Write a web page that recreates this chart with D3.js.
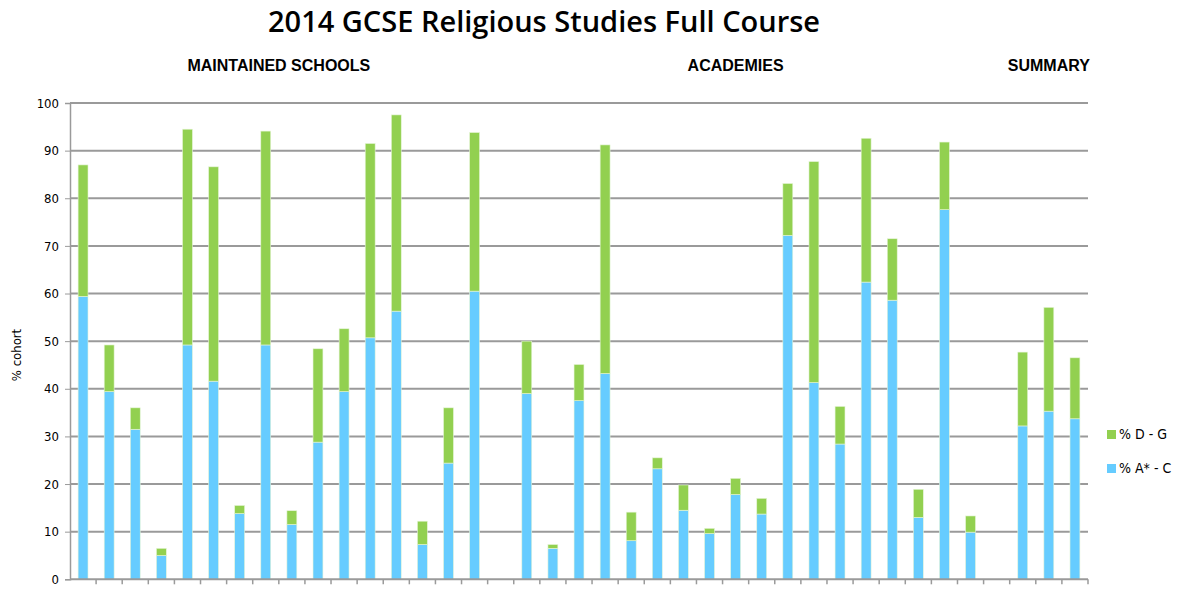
<!DOCTYPE html>
<html>
<head>
<meta charset="utf-8">
<script src="https://cdn.jsdelivr.net/npm/d3@7"></script>
<style>
  body { margin: 0; background: #fff; }
  svg { display: block; }
</style>
</head>
<body>
<svg id="chart"></svg>
<script>
// 39 slots: 16 maintained schools, gap, 18 academies, gap, 3 summary
const categories = d3.range(1, 40).map(String);

const gradeAC = [59.4, 39.4, 31.5, 5.0, 49.2, 41.6, 13.8, 49.2, 11.5, 28.8, 39.4, 50.7, 56.3, 7.3, 24.4, 60.5,
  0,
  39.0, 6.5, 37.5, 43.2, 8.1, 23.2, 14.5, 9.6, 17.8, 13.7, 72.2, 41.3, 28.4, 62.4, 58.6, 13.0, 77.6, 9.9,
  0,
  32.2, 35.3, 33.7];

const totals = [87.0, 49.2, 36.0, 6.5, 94.5, 86.6, 15.5, 94.1, 14.4, 48.4, 52.6, 91.5, 97.5, 12.2, 36.0, 93.8,
  0,
  50.0, 7.3, 45.1, 91.2, 14.1, 25.5, 19.8, 10.7, 21.2, 17.0, 83.1, 87.7, 36.3, 92.6, 71.5, 18.9, 91.8, 13.3,
  0,
  47.7, 57.1, 46.5];

const gradeDG = totals.map((t, i) => +(t - gradeAC[i]).toFixed(1));

const series = ["% A* - C", "% D - G"];
const colors = ["#66ccff", "#92d050"];
const yTicks = d3.range(0, 101, 10);

const sections = [
  { label: "MAINTAINED SCHOOLS", first: "1", last: "16" },
  { label: "ACADEMIES", first: "18", last: "34" },
  { label: "SUMMARY", first: "37", last: "39" }
];

const width = 1186, height = 590;
const margin = { top: 103, right: 98, bottom: 10, left: 70 };
const plotW = width - margin.left - margin.right;
const plotH = height - margin.top - margin.bottom - 0.7;

const svg = d3.select("#chart")
  .attr("width", width)
  .attr("height", height);

const table = categories.map((c, i) => ({ cat: c, "% A* - C": gradeAC[i], "% D - G": gradeDG[i] }));
const stacked = d3.stack().keys(series)(table);

const x = d3.scaleBand()
  .domain(categories)
  .range([0, plotW])
  .paddingInner(0.62)
  .paddingOuter(0.31);

const y = d3.scaleLinear()
  .domain([0, 100])
  .range([plotH, 0]);

const color = d3.scaleOrdinal().domain(series).range(colors);

const g = svg.append("g")
  .attr("transform", `translate(${margin.left}, ${margin.top})`);

// Gridlines
g.append("g")
  .selectAll("line")
  .data(yTicks.filter(d => d > 0))
  .enter()
  .append("line")
  .attr("x1", 0)
  .attr("x2", plotW)
  .attr("y1", d => y(d))
  .attr("y2", d => y(d))
  .attr("stroke", "#9a9a9a")
  .attr("stroke-width", 2);

// Bars
g.append("g")
  .selectAll("g")
  .data(stacked)
  .enter()
  .append("g")
  .attr("fill", d => color(d.key))
  .selectAll("rect")
  .data(d => d.filter(p => p[1] > p[0]))
  .enter()
  .append("rect")
  .attr("x", d => x(d.data.cat))
  .attr("y", d => y(d[1]))
  .attr("width", x.bandwidth())
  .attr("height", d => y(d[0]) - y(d[1]))
  .attr("stroke", "#e6f5d8")
  .attr("stroke-width", 0.6);

// Y axis
const yAxis = g.append("g")
  .call(d3.axisLeft(y).tickValues(yTicks).tickSize(5).tickPadding(6));
yAxis.select(".domain").attr("stroke", "#9a9a9a").attr("stroke-width", 1.5);
yAxis.selectAll(".tick line").attr("stroke", "#9a9a9a");
yAxis.selectAll("text")
  .attr("font-family", "DejaVu Sans Condensed, DejaVu Sans, sans-serif")
  .attr("font-size", 13)
  .attr("fill", "#000");

// X axis (ticks between categories, no labels)
const xAxis = g.append("g")
  .attr("transform", `translate(0, ${plotH})`);
xAxis.append("line")
  .attr("x1", 0)
  .attr("x2", plotW)
  .attr("stroke", "#9a9a9a")
  .attr("stroke-width", 2);
xAxis.selectAll(".xtick")
  .data(categories)
  .enter()
  .append("line")
  .attr("class", "xtick")
  .attr("x1", d => x(d) - x.step() * x.paddingInner() / 2 + x.step())
  .attr("x2", d => x(d) - x.step() * x.paddingInner() / 2 + x.step())
  .attr("y1", 0)
  .attr("y2", 5)
  .attr("stroke", "#9a9a9a")
  .attr("stroke-width", 1.5);

// Y axis title
svg.append("text")
  .attr("transform", `translate(21, 355) rotate(-90)`)
  .attr("text-anchor", "middle")
  .attr("font-family", "DejaVu Sans Condensed, DejaVu Sans, sans-serif")
  .attr("font-size", 13)
  .text("% cohort");

// Title
svg.append("text")
  .attr("x", 544)
  .attr("y", 32)
  .attr("text-anchor", "middle")
  .attr("font-family", "Open Sans, sans-serif")
  .attr("font-weight", 600)
  .attr("font-size", 29)
  .text("2014 GCSE Religious Studies Full Course");

// Section labels
svg.append("g")
  .selectAll("text")
  .data(sections)
  .enter()
  .append("text")
  .attr("x", d => margin.left + (x(d.first) + x(d.last) + x.bandwidth()) / 2)
  .attr("y", 71)
  .attr("text-anchor", "middle")
  .attr("font-family", "Liberation Sans Narrow, Arial Narrow, sans-serif")
  .attr("font-weight", "bold")
  .attr("font-size", 16)
  .text(d => d.label);

// Legend (D - G on top)
const legend = svg.append("g")
  .attr("transform", "translate(1107, 430)");
const legendItems = legend.selectAll("g")
  .data(series.slice().reverse())
  .enter()
  .append("g")
  .attr("transform", (d, i) => `translate(0, ${i * 34})`);
legendItems.append("rect")
  .attr("width", 9)
  .attr("height", 9)
  .attr("fill", d => color(d));
legendItems.append("text")
  .attr("x", 12)
  .attr("y", 9)
  .attr("font-family", "DejaVu Sans Condensed, DejaVu Sans, sans-serif")
  .attr("font-size", 14)
  .text(d => d);
</script>
</body>
</html>
